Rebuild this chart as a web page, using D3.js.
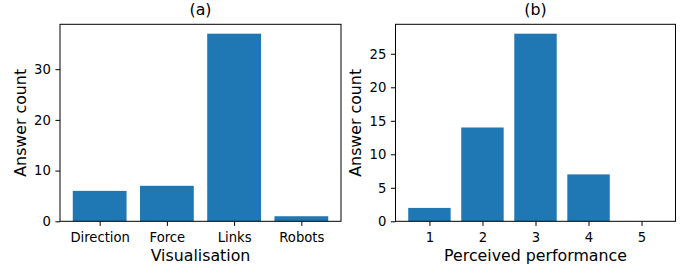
<!DOCTYPE html>
<html><head><meta charset="utf-8">
<script src="https://cdn.jsdelivr.net/npm/d3@7"></script>
<style>
body{margin:0;background:#fff;}
svg{display:block;font-family:"DejaVu Sans",sans-serif;}
</style></head><body>
<svg id="c" width="683" height="271"></svg>
<script>
const visCategories = ["Direction","Force","Links","Robots"];
const visCounts = [6,7,37,1];
const perfCategories = [1,2,3,4,5];
const perfCounts = [2,14,28,7,0];
const visTicks = [0,10,20,30];
const perfTicks = [0,5,10,15,20,25];

const svg = d3.select("#c");
const axTop = 24.3, axBottom = 221.3;
const tickFont = 13.2, labelFont = 15.8;
const tl = 4.6, tp = 4.6;

function panel(opts){
  const {x0,x1,cats,vals,ticks,title,xlabel,ylabelX,xpos} = opts;
  const n = cats.length;
  const lo = xpos[0]-0.4, hi = xpos[n-1]+0.4, m=(hi-lo)*0.05;
  const x = d3.scaleLinear().domain([lo-m, hi+m]).range([x0,x1]);
  const ymax = d3.max(vals)*1.05;
  const y = d3.scaleLinear().domain([0,ymax]).range([axBottom,axTop]);
  const g = svg.append("g");
  g.selectAll("rect.bar").data(vals).join("rect")
    .attr("x",(d,i)=>x(xpos[i]-0.4))
    .attr("width",(d,i)=>x(xpos[i]+0.4)-x(xpos[i]-0.4))
    .attr("y",d=>y(d)).attr("height",d=>y(0)-y(d))
    .attr("fill","#1f77b4");
  const xa = g.append("g").attr("transform",`translate(0,${axBottom})`)
    .call(d3.axisBottom(x).tickValues(xpos).tickFormat((d,i)=>cats[i]).tickSize(tl).tickPadding(tp+2).tickSizeOuter(0));
  const ya = g.append("g").attr("transform",`translate(${x0},0)`)
    .call(d3.axisLeft(y).tickValues(ticks).tickSize(tl).tickPadding(tp).tickSizeOuter(0));
  [xa,ya].forEach(a=>{
    a.select(".domain").remove();
    a.selectAll("text").attr("font-size",tickFont).attr("font-family","DejaVu Sans").attr("fill","#000");
    a.selectAll("line").attr("stroke","#000").attr("stroke-width",1);
  });
  g.append("rect").attr("x",x0).attr("y",axTop).attr("width",x1-x0).attr("height",axBottom-axTop)
    .attr("fill","none").attr("stroke","#000").attr("stroke-width",1);
  g.append("text").attr("x",(x0+x1)/2).attr("y",axTop-9).attr("text-anchor","middle")
    .attr("font-size",labelFont).text(title);
  g.append("text").attr("x",(x0+x1)/2).attr("y",261).attr("text-anchor","middle")
    .attr("font-size",labelFont).text(xlabel);
  g.append("text").attr("transform",`translate(${ylabelX},${(axTop+axBottom)/2}) rotate(-90)`)
    .attr("text-anchor","middle").attr("font-size",labelFont).text("Answer count");
}

panel({x0:60,x1:341,cats:visCategories,vals:visCounts,ticks:visTicks,title:"(a)",xlabel:"Visualisation",ylabelX:25.5,xpos:visCategories.map((d,i)=>i)});
panel({x0:395.5,x1:675.5,cats:perfCategories,vals:perfCounts,ticks:perfTicks,title:"(b)",xlabel:"Perceived performance",ylabelX:361,xpos:perfCategories});
</script>
</body></html>
